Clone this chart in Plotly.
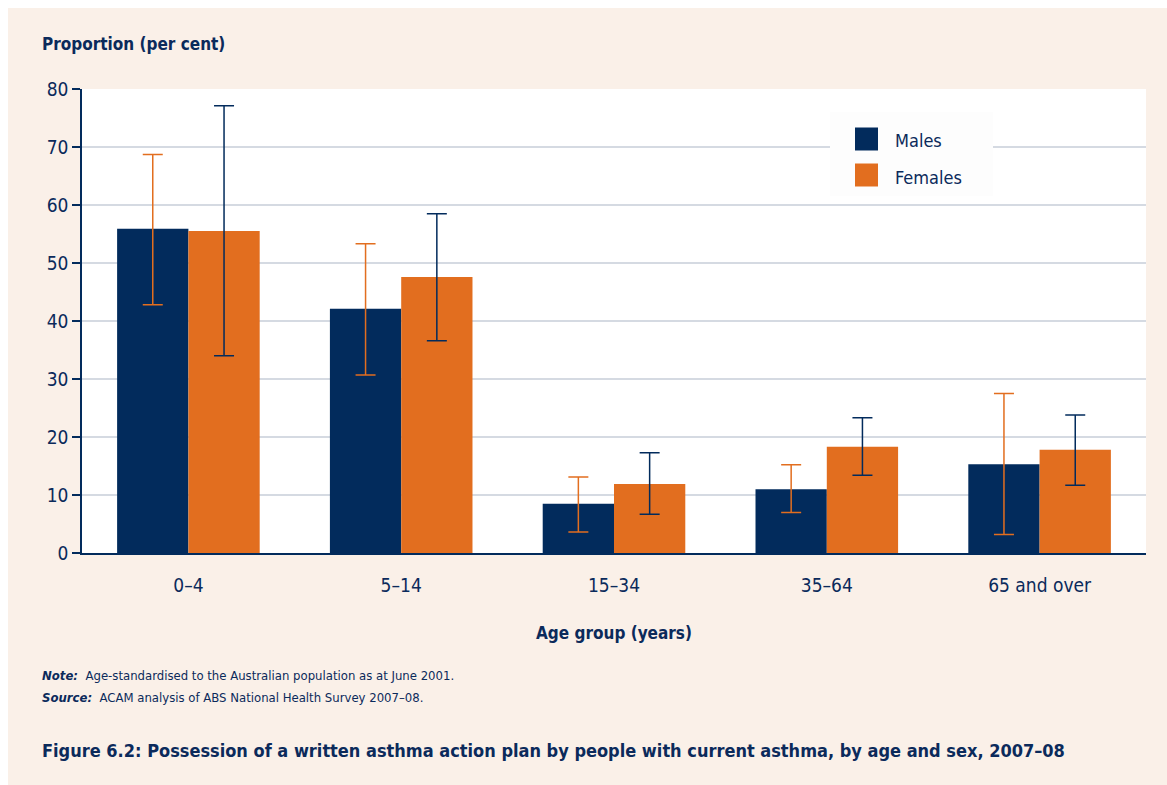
import plotly.graph_objects as go

categories = ["0–4", "5–14", "15–34", "35–64", "65 and over"]
males = [55.9, 42.1, 8.5, 11.0, 15.3]
males_upper = [68.7, 53.3, 13.1, 15.2, 27.5]
males_lower = [42.8, 30.7, 3.6, 7.0, 3.2]
females = [55.5, 47.6, 11.9, 18.3, 17.8]
females_upper = [77.1, 58.5, 17.3, 23.3, 23.8]
females_lower = [34.0, 36.6, 6.7, 13.4, 11.7]
y_ticks = [0, 10, 20, 30, 40, 50, 60, 70, 80]
series_names = ["Males", "Females"]

NAVY = "#022B5C"
ORANGE = "#E26E1F"
TEXT = "#0B2A5B"
BEIGE = "#FAF0E8"
FONT = "DejaVu Sans Condensed, Liberation Sans Narrow, Arial Narrow, sans-serif"

# page pixel -> paper coordinate helpers (plot area spans x 82..1146, y 89..553 on screen)
def px(x):
    return (x - 82) / 1064

def py(y):
    return (553 - y) / 464

fig = go.Figure()
fig.add_trace(go.Bar(
    x=categories, y=males, name=series_names[0], marker=dict(color=NAVY, line=dict(width=0)),
    showlegend=False,
    error_y=dict(type="data", symmetric=False,
                 array=[u - v for u, v in zip(males_upper, males)],
                 arrayminus=[v - l for v, l in zip(males, males_lower)],
                 color=ORANGE, thickness=1.5, width=10),
))
fig.add_trace(go.Bar(
    x=categories, y=females, name=series_names[1], marker=dict(color=ORANGE, line=dict(width=0)),
    showlegend=False,
    error_y=dict(type="data", symmetric=False,
                 array=[u - v for u, v in zip(females_upper, females)],
                 arrayminus=[v - l for v, l in zip(females, females_lower)],
                 color=NAVY, thickness=1.5, width=10),
))

shapes = [
    # white frame strips at top and left of the page
    dict(type="rect", xref="paper", yref="paper", x0=px(-2), x1=px(8), y0=py(790), y1=py(-2),
         fillcolor="white", line=dict(width=0), layer="above"),
    dict(type="rect", xref="paper", yref="paper", x0=px(-2), x1=px(1170), y0=py(8), y1=py(-2),
         fillcolor="white", line=dict(width=0), layer="above"),
    # legend box
    dict(type="rect", xref="paper", yref="paper", x0=px(830), x1=px(993), y0=py(196), y1=py(112),
         fillcolor="#FDFDFD", line=dict(width=0), layer="above"),
]
annotations = []
for i, (nm, col) in enumerate(zip(series_names, [NAVY, ORANGE])):
    cy = 139 + i * 36
    shapes.append(dict(type="rect", xref="paper", yref="paper",
                       x0=px(855), x1=px(878), y0=py(cy + 11.5), y1=py(cy - 11.5),
                       fillcolor=col, line=dict(width=0), layer="above"))
    annotations.append(dict(text=nm, xref="paper", yref="paper", x=px(893), y=py(cy + 2),
                            xanchor="left", yanchor="middle", showarrow=False,
                            font=dict(size=18, color=TEXT)))

annotations += [
    dict(text="<b>Proportion (per cent)</b>", xref="paper", yref="paper",
         x=px(40), y=py(44), xanchor="left", yanchor="middle",
         showarrow=False, font=dict(size=17, color=TEXT)),
    dict(text="<b>Age group (years)</b>", xref="paper", yref="paper",
         x=px(614), y=py(633), xanchor="center", yanchor="middle",
         showarrow=False, font=dict(size=17, color=TEXT)),
    dict(text="<b><i>Note:</i></b>  Age-standardised to the Australian population as at June 2001.",
         xref="paper", yref="paper", x=px(40), y=py(675), xanchor="left", yanchor="middle",
         showarrow=False, font=dict(size=13, color=TEXT)),
    dict(text="<b><i>Source:</i></b>  ACAM analysis of ABS National Health Survey 2007–08.",
         xref="paper", yref="paper", x=px(40), y=py(697), xanchor="left", yanchor="middle",
         showarrow=False, font=dict(size=13, color=TEXT)),
    dict(text="<b>Figure 6.2: Possession of a written asthma action plan by people with current asthma, by age and sex, 2007–08</b>",
         xref="paper", yref="paper", x=px(40), y=py(750), xanchor="left", yanchor="middle",
         showarrow=False, font=dict(size=18, color=TEXT)),
]

fig.update_layout(
    width=1167, height=785,
    margin=dict(l=82, r=21, t=89, b=232),
    paper_bgcolor=BEIGE, plot_bgcolor="white",
    font=dict(family=FONT, color=TEXT, size=19),
    barmode="group", bargap=0.33, bargroupgap=0,
    showlegend=False,
    xaxis=dict(showgrid=False, showline=True, linecolor=NAVY, linewidth=2,
               ticks="", ticklabelstandoff=14, tickfont=dict(size=19, color=TEXT),
               zeroline=False),
    yaxis=dict(range=[0, 80], tickvals=y_ticks, showgrid=True, gridcolor="#D5DAE2",
               gridwidth=1.5, showline=True, linecolor=NAVY, linewidth=1.5,
               ticks="outside", ticklen=8, tickcolor=NAVY, tickwidth=1.5,
               tickfont=dict(size=19, color=TEXT), zeroline=False),
    shapes=shapes,
    annotations=annotations,
)

fig.write_html(
    "out.html",
    config={"displayModeBar": False},
    post_script="document.body.style.margin='0';document.body.style.overflow='hidden';"
                "document.documentElement.style.background='" + BEIGE + "';",
)
